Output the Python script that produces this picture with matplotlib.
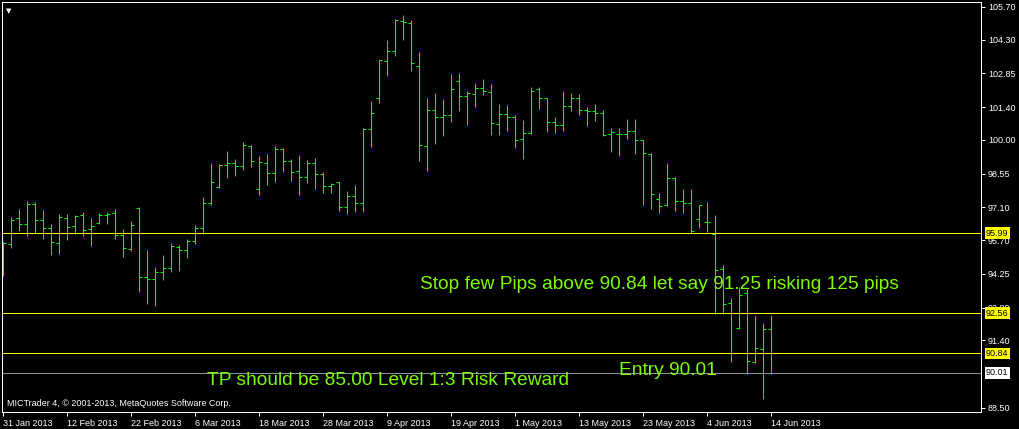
import matplotlib
matplotlib.use("Agg")
import matplotlib.pyplot as plt
import numpy as np

# daily OHLC, 31 Jan 2013 .. 14 Jun 2013
opens = [94.60, 95.53, 96.65, 96.39, 97.25, 96.56, 96.22, 95.58, 96.65, 96.30,
         96.78, 96.18, 96.43, 96.78, 96.86, 95.92, 95.32, 97.08, 94.12, 94.03,
         94.33, 94.50, 95.40, 95.28, 95.66, 96.22, 97.29, 97.98, 98.92, 99.01,
         98.88, 99.74, 97.89, 99.01, 98.58, 99.61, 99.09, 98.66, 98.41, 99.01,
         98.54, 98.02, 98.19, 97.12, 97.59, 97.29, 100.47, 101.80, 103.38, 103.81,
         105.10, 105.01, 103.17, 99.74, 101.28, 100.98, 101.07, 102.53, 101.88, 101.97,
         102.22, 102.05, 100.68, 101.11, 100.98, 100.04, 100.29, 102.18, 101.80, 100.77,
         100.64, 101.45, 101.80, 101.28, 101.24, 101.15, 100.25, 100.25, 100.25, 100.38,
         99.99, 99.39, 97.46, 97.21, 98.36, 97.38, 97.29, 96.60, 96.48, 95.96,
         94.46, 93.00, 91.93, 93.43, 90.47, 91.03, 91.89]
highs = [95.62, 96.69, 97.03, 97.38, 97.33, 96.99, 96.39, 96.82, 96.82, 96.78,
         96.91, 96.65, 96.86, 96.91, 97.03, 96.18, 96.52, 97.12, 95.28, 94.55,
         95.06, 95.58, 95.49, 95.75, 96.35, 97.55, 99.01, 98.96, 99.52, 99.18,
         99.91, 99.78, 99.31, 99.39, 99.74, 99.65, 99.18, 99.35, 99.14, 99.22,
         98.62, 98.15, 98.19, 97.81, 98.06, 100.51, 101.67, 103.43, 104.28, 105.18,
         105.36, 105.14, 103.77, 101.80, 102.01, 101.75, 102.83, 102.87, 102.10, 102.44,
         102.61, 102.40, 101.54, 101.50, 101.07, 100.85, 102.27, 102.27, 101.80, 100.98,
         102.10, 102.01, 101.97, 101.41, 101.54, 101.28, 100.51, 100.51, 100.90, 100.90,
         99.99, 99.44, 97.72, 99.01, 98.41, 97.89, 97.90, 97.21, 97.33, 96.78,
         94.63, 93.22, 93.69, 93.60, 92.44, 92.14, 92.49]
lows = [94.16, 95.36, 96.09, 95.88, 96.00, 95.75, 95.06, 95.10, 95.70, 95.96,
        95.88, 95.45, 96.39, 96.39, 95.75, 94.97, 95.23, 93.47, 92.96, 92.87,
        93.99, 94.33, 94.37, 94.93, 95.53, 95.96, 97.21, 97.93, 98.36, 98.45,
        98.71, 98.84, 97.63, 98.06, 98.19, 98.62, 98.24, 97.63, 98.15, 97.89,
        97.72, 97.72, 96.95, 96.82, 96.91, 96.91, 99.69, 101.58, 102.74, 103.60,
        104.28, 102.95, 99.09, 98.66, 99.82, 100.17, 100.77, 101.24, 100.64, 101.41,
        101.92, 100.21, 100.21, 100.38, 99.65, 99.18, 100.25, 101.32, 100.34, 100.29,
        100.38, 101.24, 101.07, 100.59, 100.81, 100.17, 99.48, 99.31, 100.04, 99.39,
        97.21, 97.03, 96.86, 97.16, 96.95, 96.86, 96.00, 96.22, 96.05, 92.53,
        92.53, 90.47, 91.89, 89.96, 90.43, 88.88, 89.96]
closes = [95.58, 96.56, 96.39, 97.25, 96.56, 96.22, 95.62, 96.69, 96.26, 96.73,
          96.13, 96.30, 96.78, 96.82, 95.92, 95.36, 96.35, 94.12, 94.03, 94.33,
          94.50, 95.45, 95.28, 95.66, 96.22, 97.29, 98.19, 98.92, 99.01, 98.88,
          99.78, 99.09, 99.05, 98.58, 99.61, 99.09, 98.62, 98.41, 99.01, 98.54,
          98.02, 98.11, 97.12, 97.59, 97.29, 100.47, 101.15, 103.43, 103.81, 105.14,
          105.06, 103.30, 99.78, 101.28, 100.98, 101.07, 102.18, 101.88, 102.01, 102.22,
          102.10, 100.72, 101.11, 100.98, 99.99, 100.29, 102.10, 101.80, 100.77, 100.64,
          101.45, 101.80, 101.28, 101.24, 101.15, 100.21, 100.34, 100.25, 100.38, 99.99,
          99.44, 97.68, 97.16, 98.36, 97.38, 97.29, 96.09, 97.21, 96.48, 94.42,
          92.96, 92.57, 93.34, 90.51, 91.07, 91.89, 90.01]

date_labels = ["31 Jan 2013", "12 Feb 2013", "22 Feb 2013", "6 Mar 2013", "18 Mar 2013",
               "28 Mar 2013", "9 Apr 2013", "19 Apr 2013", "1 May 2013", "13 May 2013",
               "23 May 2013", "4 Jun 2013", "14 Jun 2013"]
date_idx = list(range(0, 97, 8))

price_ticks = [105.70, 104.30, 102.85, 101.40, 100.00, 98.55, 97.10,
               95.70, 94.25, 92.80, 91.40, 88.50]
levels = [95.99, 92.56, 90.84]
bid = 90.01

W, H = 1020, 429
fig = plt.figure(figsize=(W / 100, H / 100), dpi=100, facecolor="black")
ax = fig.add_axes([2 / W, (H - 412) / H, 979 / W, 410 / H], facecolor="black")

green = "#00ff00"
lw = 0.72  # one pixel at 100 dpi
x = np.arange(len(opens))
ax.vlines(x, lows, highs, color=green, lw=lw, snap=True)
ax.hlines(opens, x - 0.33, x, color=green, lw=lw, snap=True)
ax.hlines(closes, x, x + 0.33, color=green, lw=lw, snap=True)

for lv in levels:
    ax.axhline(lv, color="#ffff00", lw=lw, snap=True)
    ax.annotate(f"{lv:.2f}", xy=(1, lv), xycoords=("axes fraction", "data"),
                xytext=(3.5, 0), textcoords="offset points", ha="left", va="center",
                fontsize=6.5, family="Liberation Sans", color="black", zorder=5,
                bbox=dict(boxstyle="square,pad=0.15", fc="#ffff00", ec="none"))
ax.axhline(bid, color="#8c96a0", lw=lw, snap=True)
ax.annotate(f"{bid:.2f}", xy=(1, bid), xycoords=("axes fraction", "data"),
            xytext=(3.5, 0), textcoords="offset points", ha="left", va="center",
            fontsize=6.5, family="Liberation Sans", color="black", zorder=5,
            bbox=dict(boxstyle="square,pad=0.15", fc="white", ec="none"))

ax.set_xlim(-0.125, 122.25)
ax.set_ylim(88.326, 105.914)

ax.yaxis.tick_right()
ax.set_yticks(price_ticks)
ax.set_yticklabels([f"{p:.2f}" for p in price_ticks])
ax.set_xticks(date_idx)
ax.set_xticklabels(date_labels, ha="left")
ax.tick_params(colors="white", labelcolor="white", labelsize=6.5, length=3, width=lw, direction="out")
ax.tick_params(axis="x", pad=2)
ax.tick_params(axis="y", pad=2)
for lab in ax.get_xticklabels() + ax.get_yticklabels():
    lab.set_family("Liberation Sans")
for sp in ax.spines.values():
    sp.set_color("white")
    sp.set_linewidth(lw)


def fpos(xp, yp):
    return xp / W, 1 - yp / H


txt = dict(color="#7cfc00", fontsize=13.8, family="Liberation Sans", va="baseline", ha="left")
fig.text(*fpos(420, 289), "Stop few Pips above 90.84 let say 91.25 risking 125 pips", **txt)
fig.text(*fpos(619, 375), "Entry 90.01", **txt)
fig.text(*fpos(207, 385), "TP should be 85.00 Level 1:3 Risk Reward", **txt)
fig.text(*fpos(7, 404), "MICTrader 4, \u00a9 2001-2013, MetaQuotes Software Corp.",
         color="white", fontsize=6.5, family="Liberation Sans", va="center", ha="left")
fig.text(*fpos(9, 11), "\u25bc", color="white", fontsize=5, family="DejaVu Sans",
         va="center", ha="center")

fig.savefig("out.png", dpi=100, facecolor="black")
